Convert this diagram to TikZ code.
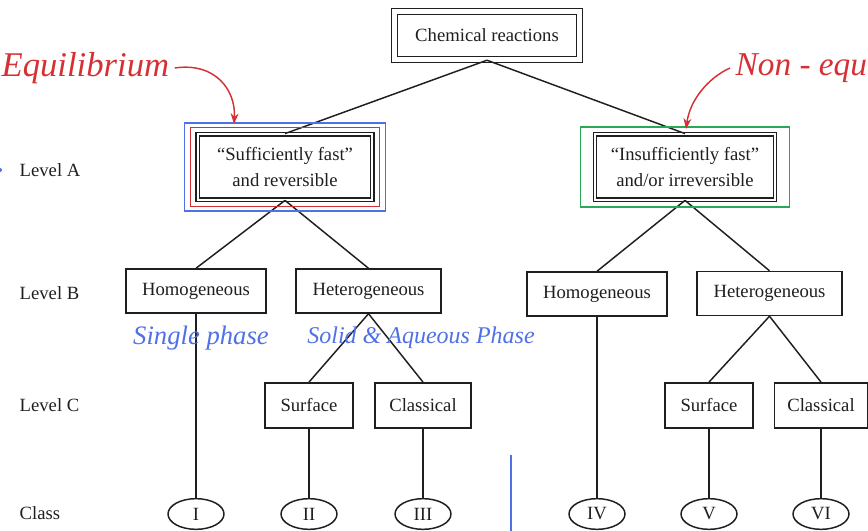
\documentclass[tikz,border=0pt]{standalone}
\usepackage{fontspec}
\setmainfont{Liberation Serif}
\usepackage{tikz}
\usetikzlibrary{arrows.meta, positioning, shapes.geometric, fit}
\definecolor{printBlack}{gray}{0.12}
\definecolor{inkRed}{RGB}{214,48,52}
\definecolor{inkBlue}{RGB}{80,112,230}
\definecolor{inkGreen}{RGB}{42,168,86}

\begin{document}
\begin{tikzpicture}[x=0.75pt, y=-0.75pt, >=Stealth,
    box/.style={draw=printBlack, line width=1.1pt, fill=white, text=printBlack,
        font=\fontsize{14}{19}\selectfont, align=center, inner sep=0pt},
    dbox/.style={box, double, double distance=1.3pt},
    ring/.style={box, ellipse, minimum width=42pt, minimum height=23pt},
    lvl/.style={anchor=west, text=printBlack, font=\fontsize{14}{17}\selectfont},
    hand/.style={font=\fontsize{#1}{#1}\selectfont\itshape},
    link/.style={draw=printBlack, line width=1.1pt}]
    \useasboundingbox (0,0) rectangle (868,531);
    \clip (0,0) rectangle (868,531);

    \node[dbox, double distance=3.5pt, minimum width=139pt, minimum height=36pt] (chem) at (487,35.5) {Chemical reactions};

    \node[dbox, minimum width=131pt, minimum height=49pt] (eqA) at (285,167) {``Sufficiently fast''\\and reversible};
    \node[dbox, minimum width=135pt, minimum height=49pt] (neqA) at (685,167) {``Insufficiently fast''\\and/or irreversible};

    \node[box, minimum width=105pt, minimum height=33pt] (homL) at (196,291) {Homogeneous};
    \node[box, minimum width=109pt, minimum height=33pt] (hetL) at (368.5,291) {Heterogeneous};
    \node[box, minimum width=105pt, minimum height=33pt] (homR) at (597,294) {Homogeneous};
    \node[box, minimum width=109pt, minimum height=33pt] (hetR) at (769.5,293.5) {Heterogeneous};

    \node[box, minimum width=66pt, minimum height=34pt] (surL) at (309,405.5) {Surface};
    \node[box, minimum width=72pt, minimum height=34pt] (clsL) at (423,405.5) {Classical};
    \node[box, minimum width=66pt, minimum height=34pt] (surR) at (709,405.5) {Surface};
    \node[box, minimum width=70pt, minimum height=34pt] (clsR) at (821,405.5) {Classical};

    \node[ring] (cI) at (196,514) {I};
    \node[ring] (cII) at (309,514) {II};
    \node[ring] (cIII) at (423,514) {III};
    \node[ring] (cIV) at (597,514) {IV};
    \node[ring] (cV) at (709,514) {V};
    \node[ring] (cVI) at (821,514) {VI};

    \node[lvl] (lvA) at (15,170) {Level A};
    \node[lvl] (lvB) at (15,293) {Level B};
    \node[lvl] (lvC) at (15,405) {Level C};
    \node[lvl] (lvCl) at (15,513) {Class};

    \draw[link] (chem.south) -- (eqA.north);
    \draw[link] (chem.south) -- (neqA.north);
    \draw[link] (eqA.south) -- (homL.north);
    \draw[link] (eqA.south) -- (hetL.north);
    \draw[link] (neqA.south) -- (homR.north);
    \draw[link] (neqA.south) -- (hetR.north);
    \draw[link] (hetL.south) -- (surL.north);
    \draw[link] (hetL.south) -- (clsL.north);
    \draw[link] (hetR.south) -- (surR.north);
    \draw[link] (hetR.south) -- (clsR.north);
    \draw[link] (homL.south) -- (cI.north);
    \draw[link] (surL.south) -- (cII.north);
    \draw[link] (clsL.south) -- (cIII.north);
    \draw[link] (homR.south) -- (cIV.north);
    \draw[link] (surR.south) -- (cV.north);
    \draw[link] (clsR.south) -- (cVI.north);

    % hand marks
    \node[fit=(eqA), inner xsep=5pt, inner ysep=4.5pt, draw=inkRed, line width=1pt] (eqRed) {};
    \node[fit=(eqA), inner xsep=9.5pt, inner ysep=8pt, draw=inkBlue, line width=1pt] (eqBlue) {};
    \node[fit=(neqA), inner xsep=10.5pt, inner ysep=5pt, draw=inkGreen, line width=1pt] (neqGreen) {};

    \node[hand=26, text=inkRed, anchor=west, inner sep=1pt] (eqNote) at (0,68) {Equilibrium};
    \node[hand=25, text=inkRed, anchor=west, inner sep=1pt] (neqNote) at (734,68) {Non - equ};
    \coordinate (eqTip) at (234,124);
    \coordinate (neqTip) at (686,129);
    \draw[inkRed, line width=1.1pt, ->] ([xshift=3pt]eqNote.east) .. controls (215,62) and (236,90) .. (eqTip);
    \draw[inkRed, line width=1.1pt, ->] ([xshift=-3pt]neqNote.west) .. controls (708,78) and (690,100) .. (neqTip);

    \node[hand=20, text=inkBlue] (homNote) at (201,338) {Single phase};
    \node[hand=18, text=inkBlue] (hetNote) at (421,338) {Solid \& Aqueous Phase};

    \fill[inkBlue] (0,170) circle (2);
    \draw[inkBlue, line width=0.8pt] (511,455) -- (511,531);
\end{tikzpicture}
\end{document}
